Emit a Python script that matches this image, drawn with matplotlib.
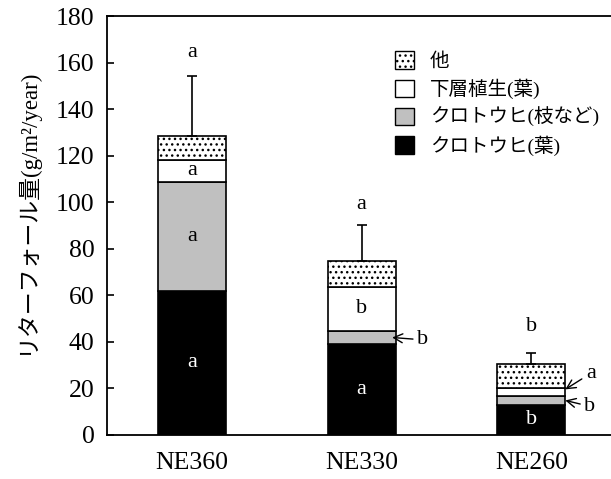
import matplotlib
matplotlib.use("Agg")
import matplotlib.pyplot as plt
import matplotlib.patches as mpatches
import numpy as np

plt.rcParams["font.family"] = ["Liberation Serif", "Noto Sans CJK JP"]
plt.rcParams["hatch.linewidth"] = 1.0

# data (g/m2/year)
sites = ["NE360", "NE330", "NE260"]
spruce_leaf = [62.0, 39.0, 12.9]      # クロトウヒ(葉)
spruce_branch = [46.9, 5.8, 3.9]      # クロトウヒ(枝など)
understory = [9.3, 18.9, 3.5]         # 下層植生(葉)
other = [10.3, 11.2, 10.1]            # 他
err = [25.9, 15.3, 4.7]

# significance letters
top_letters = ["a", "a", "b"]
leaf_letters = ["a", "a", "b"]
branch_letters = ["a", "b", "b"]
under_letters = ["a", "b", "a"]

layer_names = ["クロトウヒ(葉)", "クロトウヒ(枝など)", "下層植生(葉)", "他"]
layer_colors = ["black", "#C0C0C0", "white", "white"]
layer_hatch = [None, None, None, "..."]

fig = plt.figure(figsize=(6.11, 4.79), dpi=100)
ax = fig.add_axes([0.1751, 0.0919, 0.8334, 0.8743])

x = np.arange(len(sites))
w = 0.4
layers = [spruce_leaf, spruce_branch, understory, other]
bottom = np.zeros(len(sites))
for vals, col, h, name in zip(layers, layer_colors, layer_hatch, layer_names):
    ax.bar(x, vals, w, bottom=bottom, color=col, edgecolor="black",
           linewidth=1.2, hatch=h, label=name, zorder=2)
    bottom = bottom + np.array(vals)
total = bottom

ax.errorbar(x, total, yerr=[np.zeros(len(sites)), err], fmt="none",
            ecolor="black", elinewidth=1.2, capsize=3.5, capthick=1.2, zorder=3)

fs_letter = 16
# letters above error bars
offsets = [10, 9, 11.5]
for i in range(len(sites)):
    ax.text(x[i], total[i] + err[i] + offsets[i], top_letters[i], ha="center",
            va="center", fontsize=fs_letter)

leaf = np.array(spruce_leaf)
branch = np.array(spruce_branch)
under = np.array(understory)

# letters inside segments
for i in range(len(sites)):
    ax.text(x[i], leaf[i] / 2, leaf_letters[i], ha="center", va="center",
            fontsize=fs_letter, color="white")
ax.text(x[0], leaf[0] + branch[0] / 2, branch_letters[0], ha="center",
        va="center", fontsize=fs_letter)
for i in [0, 1]:
    ax.text(x[i], leaf[i] + branch[i] + under[i] / 2, under_letters[i],
            ha="center", va="center", fontsize=fs_letter)

# arrowed letters for thin segments
arrow = dict(arrowstyle="->", color="black", lw=1.0, shrinkA=1, shrinkB=0)
ax.annotate(branch_letters[1], xy=(x[1] + 0.18, leaf[1] + branch[1] / 2),
            xytext=(x[1] + 0.36, leaf[1] + branch[1] / 2 - 1),
            ha="center", va="center", fontsize=fs_letter, arrowprops=arrow)
ax.annotate(under_letters[2], xy=(x[2] + 0.2, leaf[2] + branch[2] + under[2] - 0.7),
            xytext=(x[2] + 0.35, 26.5),
            ha="center", va="center", fontsize=fs_letter, arrowprops=arrow)
ax.annotate(branch_letters[2], xy=(x[2] + 0.2, leaf[2] + branch[2] / 2),
            xytext=(x[2] + 0.345, 12.3),
            ha="center", va="center", fontsize=fs_letter, arrowprops=arrow)

ax.set_xlim(-0.5, 2.5)
ax.set_ylim(0, 180)
ax.set_yticks(np.arange(0, 181, 20))
ax.set_xticks(x)
ax.set_xticklabels(sites)
ax.tick_params(axis="y", direction="in", length=5, width=1.2, labelsize=18.5, pad=9)
ax.tick_params(axis="x", length=0, labelsize=18.5, pad=12)
ax.spines["right"].set_visible(False)
for s in ["left", "bottom", "top"]:
    ax.spines[s].set_linewidth(1.3)

ax.set_ylabel("リターフォール量(g/m²/year)", fontsize=16.5)
ax.yaxis.set_label_coords(-0.136, 0.536)

handles = [mpatches.Patch(facecolor=c, edgecolor="black", hatch=h, label=n)
           for c, h, n in zip(layer_colors, layer_hatch, layer_names)]
ax.legend(handles=handles[::-1], loc="upper left", bbox_to_anchor=(0.55, 0.935),
          frameon=False, fontsize=14, handlelength=1.0, handleheight=1.0,
          handletextpad=0.8, labelspacing=0.42, borderaxespad=0)

fig.savefig("out.png", dpi=100)
